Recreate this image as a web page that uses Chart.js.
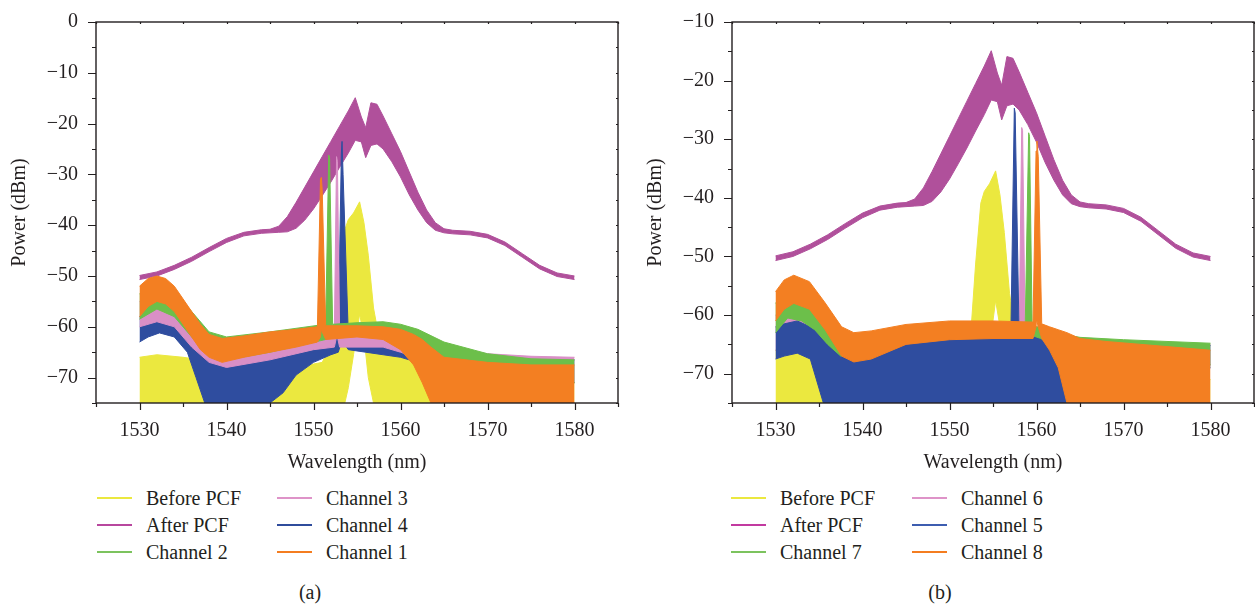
<!DOCTYPE html>
<html>
<head>
<meta charset="utf-8">
<script src="https://cdn.jsdelivr.net/npm/chart.js@4.4.1/dist/chart.umd.min.js"></script>
<style>
  body { margin: 0; background: #fff; }
  #wrap { position: relative; width: 1255px; height: 606px; font-family: 'Liberation Serif', 'Times New Roman', serif; color: #231f20; }
  canvas { position: absolute; top: 0; }
  .key { position: absolute; display: flex; align-items: center; font-size: 20px; line-height: 24px; white-space: nowrap; }
  .key .swatch { display: inline-block; width: 35px; height: 2px; margin-right: 14px; }
  .cap { position: absolute; font-size: 20px; line-height: 24px; transform: translateX(-50%); }
</style>
</head>
<body>
<div id="wrap">
  <canvas id="chartA" width="627" height="480" style="left:0px"></canvas>
  <canvas id="chartB" width="619" height="480" style="left:636px"></canvas>
</div>
<script>
// tick labels
const xTickLabels = [1530, 1540, 1550, 1560, 1570, 1580];
const yTickLabelsA = [0, -10, -20, -30, -40, -50, -60, -70];
const yTickLabelsB = [-10, -20, -30, -40, -50, -60, -70];

// envelopes (upper / lower edge in dBm)
// same input and PCF output in both panels
const wlBefore = [1530, 1532, 1535, 1537, 1540, 1545, 1548, 1551, 1552.5, 1553, 1553.6, 1554, 1554.6, 1555.3, 1555.8, 1556.3, 1556.9, 1557.3, 1558, 1559, 1562, 1565, 1570, 1575, 1580];
const beforeHi = [-66, -65.5, -66, -66.5, -67, -67.5, -68, -67, -62, -51.3, -40.9, -38.9, -37.6, -35.4, -39.5, -45.9, -56.3, -60, -63, -65, -67, -68, -70, -71, -71];
const beforeLo = [-75, -75, -75, -75, -75, -75, -75, -75, -75, -75, -75, -72, -65.5, -57.5, -62, -70, -75, -75, -75, -75, -75, -75, -75, -75, -75];

const wlAfter = [1530, 1532, 1534, 1536, 1538, 1540, 1542, 1544, 1545, 1546, 1547, 1548, 1549, 1550, 1551, 1552, 1553, 1554, 1554.8, 1555.5, 1556, 1556.6, 1557.3, 1558, 1559, 1560, 1561, 1562, 1563, 1564, 1565, 1566, 1568, 1570, 1572, 1574, 1576, 1578, 1580];
const afterHi = [-49.9, -49.2, -47.9, -46.3, -44.4, -42.6, -41.4, -40.9, -40.8, -40.2, -38.3, -35.5, -32.5, -29.5, -26.5, -23.5, -20.5, -17.5, -14.9, -18.7, -20.8, -15.9, -16.2, -18.5, -22, -25.5, -29.5, -33.5, -37, -39.5, -40.7, -41, -41.2, -41.8, -43.3, -45.6, -47.9, -49.4, -50];
const afterLo = [-50.7, -50, -48.7, -47.1, -45.2, -43.4, -42.1, -41.6, -41.5, -41.4, -41.3, -40.6, -39, -36.8, -34.2, -31.5, -28.6, -25.8, -23.3, -23.6, -26.7, -24.3, -24, -25, -27.5, -30.5, -34, -37, -39.5, -41, -41.5, -41.7, -41.9, -42.5, -44, -46.3, -48.6, -50.1, -50.7];

// panel (a)
const wlCh1 = [1530, 1531, 1532, 1533, 1534, 1535, 1536, 1537, 1538, 1539.5, 1542, 1545, 1548, 1550.45, 1550.8, 1550.9, 1551, 1551.4, 1555, 1558, 1560, 1561.5, 1562.5, 1563.5, 1565, 1570, 1575, 1580];
const ch1Hi = [-52, -50.5, -50, -50.5, -52, -54.5, -57, -59.5, -61.5, -62.3, -61.8, -61, -60.5, -60, -31, -30.6, -33, -59.8, -59.8, -60, -60.5, -61.5, -62.5, -64, -66, -67, -67.5, -67.5];
const ch1Lo = [-58, -56, -55, -55.5, -57, -59.5, -62, -64.5, -66, -67, -66, -65, -64, -63, -62, -60.5, -61, -62.5, -62, -62.5, -64.5, -67.5, -71, -75, -75, -75, -75, -75];

const wlCh2 = [1530, 1532, 1534, 1536, 1538, 1540, 1545, 1551.4, 1551.75, 1551.85, 1552.2, 1555, 1558, 1560, 1562, 1565, 1570, 1575, 1580];
const ch2Hi = [-53.5, -52, -53, -57, -61, -62, -61, -59.5, -26.2, -26.8, -59.5, -59.2, -59, -59.5, -60.5, -63, -65.3, -66.3, -66.5];
const ch2Lo = [-58.5, -56.5, -58, -62, -65.5, -66.5, -65, -62.5, -60, -60, -61.5, -61.5, -61.5, -62, -63, -66.5, -69, -70, -71];

const wlCh3 = [1530, 1532, 1534, 1536, 1538, 1540, 1545, 1550, 1552.4, 1552.65, 1552.75, 1553, 1555, 1558, 1560, 1565, 1570, 1575, 1580];
const ch3Hi = [-55, -54, -55, -59, -62, -63, -62, -61, -60.5, -26.5, -27.5, -60.5, -60.5, -60.5, -61, -64, -65.3, -65.8, -66];
const ch3Lo = [-60, -59, -60, -64, -67, -68, -66.5, -64.5, -64, -62, -62, -64, -64, -64, -65, -68, -70, -70.5, -71];

const wlCh4 = [1530, 1531, 1532.3, 1534, 1535.5, 1536.5, 1537.5, 1539, 1541, 1543, 1545, 1546.5, 1548, 1550, 1552, 1552.85, 1553.2, 1553.28, 1553.4, 1554, 1556, 1558, 1560, 1562, 1565, 1570, 1575, 1580];
const ch4Hi = [-58, -57, -56.7, -57.5, -59.5, -61.5, -63.5, -65.5, -66, -65.5, -64.8, -64.3, -63.5, -62.5, -61.8, -61.5, -26, -23.5, -30, -61.5, -62, -62, -62.5, -63.5, -64.8, -65.5, -66, -66.5];
const ch4Lo = [-63, -62, -61.2, -62, -65, -70, -75, -75, -75, -75, -75, -73, -69.5, -67, -65.5, -65, -63, -62, -63, -64.5, -65, -65.5, -66, -67, -68.5, -70, -70.5, -71];

// panel (b)
const wlCh5 = [1530, 1531, 1532.5, 1534, 1535.5, 1537, 1540, 1543, 1546, 1550, 1555, 1557.05, 1557.45, 1557.55, 1558, 1560, 1562, 1564.5, 1565, 1570, 1575, 1580];
const ch5Hi = [-62, -61.5, -61, -62, -63.5, -65.5, -65, -64, -63.5, -63.5, -63.5, -63.5, -24.7, -25.5, -63.5, -63.5, -64.5, -65, -65, -65, -65, -65.2];
const ch5Lo = [-67.5, -67, -66.5, -67.5, -75, -75, -75, -75, -75, -75, -75, -75, -75, -75, -75, -75, -75, -75, -68.5, -69, -69, -69];

const wlCh6 = [1530, 1531.5, 1533, 1535, 1537, 1540, 1545, 1550, 1555, 1558, 1558.3, 1558.4, 1558.7, 1560, 1565, 1570, 1580];
const ch6Hi = [-60, -59.6, -60, -62, -65, -66, -65, -65, -64.5, -64, -28, -28.5, -64, -64, -64.3, -64.8, -65];
const ch6Lo = [-66, -65, -65.5, -68, -75, -75, -75, -75, -75, -75, -75, -75, -75, -70, -68, -68.5, -68.5];

const wlCh7 = [1530, 1531.4, 1533, 1534.5, 1536, 1537.5, 1540, 1545, 1550, 1555, 1558.7, 1559.1, 1559.2, 1559.5, 1560.5, 1562, 1565, 1570, 1580];
const ch7Hi = [-58, -55.4, -55.8, -57.5, -60.5, -63, -63.5, -62.5, -62, -62, -62, -28.9, -29.5, -62, -62, -63, -63.8, -64.2, -64.8];
const ch7Lo = [-63, -60.5, -61, -62.5, -65, -67, -66.5, -64.5, -63.5, -63.5, -63.5, -63.5, -63.5, -63.5, -64, -65.5, -67.5, -68, -68.5];

const wlCh8 = [1530, 1531, 1532.1, 1533.9, 1535.7, 1537.6, 1539, 1541, 1545, 1550, 1555, 1559.6, 1559.95, 1560.05, 1560.2, 1560.6, 1561.5, 1562.5, 1563.5, 1565, 1568, 1572, 1576, 1580];
const ch8Hi = [-56, -54, -53.2, -54.3, -57.9, -62, -63, -62.7, -61.6, -61, -61, -61.2, -32, -30.3, -33, -61.5, -62, -62.5, -63, -64, -64.5, -65, -65.5, -66];
const ch8Lo = [-61, -59, -58, -59, -62.5, -67, -68, -67.5, -65, -64.2, -64, -64, -62, -61, -62, -64, -66, -69, -75, -75, -75, -75, -75, -75];

const ink = '#231f20';
const serif = {family: "'Liberation Serif', 'Times New Roman', serif", size: 20};
const yellow = '#ebe83f', magenta = '#b0509b', green = '#6cbf4a', pink = '#d98fc6', blue = '#2f4d9f', orange = '#f37f22';

function band(label, xs, hi, lo, color, order) {
  return [
    {label: label + ' (lower)', data: xs.map((x, i) => ({x, y: lo[i]})), borderColor: color, borderWidth: 1, pointRadius: 0, fill: false, order},
    {label, data: xs.map((x, i) => ({x, y: hi[i]})), borderColor: color, backgroundColor: color, borderWidth: 1, pointRadius: 0, fill: '-1', order}
  ];
}

const frame = {
  id: 'frame',
  afterDraw(chart) {
    const {ctx, chartArea: a, scales: {x, y}} = chart;
    ctx.save();
    ctx.strokeStyle = ink;
    ctx.lineWidth = 1.4;
    ctx.strokeRect(a.left, a.top, a.right - a.left, a.bottom - a.top);
    ctx.lineWidth = 1.2;
    ctx.beginPath();
    for (let v = x.min; v <= x.max; v += 5) {
      const p = Math.round(x.getPixelForValue(v)) + 0.5;
      const major = v % 10 === 0;
      ctx.moveTo(p, a.bottom); ctx.lineTo(p, a.bottom + (major ? 7 : 4));
      ctx.moveTo(p, a.top); ctx.lineTo(p, a.top + 2);
    }
    for (let v = y.min; v <= y.max; v += 5) {
      const p = Math.round(y.getPixelForValue(v)) + 0.5;
      const major = v % 10 === 0;
      ctx.moveTo(a.left - (major ? 8 : 4), p); ctx.lineTo(a.left, p);
      ctx.moveTo(a.right, p); ctx.lineTo(a.right - 2, p);
    }
    ctx.stroke();
    ctx.restore();
  }
};

function drawPanel(id, bands, yMin, yMax, yLabels, padRight) {
  const datasets = bands.flatMap(b => band(...b));
  return new Chart(document.getElementById(id), {
    type: 'line',
    data: {datasets},
    options: {
      responsive: false,
      animation: false,
      events: [],
      layout: {padding: {top: 15, right: padRight, bottom: 0, left: 0}},
      plugins: {legend: {display: false}, tooltip: {enabled: false}},
      elements: {line: {tension: 0}},
      scales: {
        x: {
          type: 'linear', min: 1525, max: 1585,
          afterBuildTicks: s => { s.ticks = xTickLabels.map(v => ({value: v})); },
          afterFit: s => { s.height = 77; },
          ticks: {font: serif, color: ink, padding: 8, maxRotation: 0, callback: v => String(v)},
          grid: {display: true, drawOnChartArea: false, color: 'rgba(0,0,0,0)', tickLength: 8},
          border: {display: false},
          title: {display: true, text: 'Wavelength (nm)', font: serif, color: ink, padding: {top: 0, bottom: 5}}
        },
        y: {
          type: 'linear', min: yMin, max: yMax,
          afterBuildTicks: s => { s.ticks = yLabels.map(v => ({value: v})); },
          afterFit: s => { s.width = 96; },
          ticks: {font: serif, color: ink, padding: 10, callback: v => v < 0 ? '\u2212' + Math.abs(v) : String(v)},
          grid: {display: true, drawOnChartArea: false, color: 'rgba(0,0,0,0)', tickLength: 8},
          border: {display: false},
          title: {display: true, text: 'Power (dBm)', font: serif, color: ink, padding: {top: 8, bottom: 0}}
        }
      }
    },
    plugins: [frame]
  });
}

drawPanel('chartA', [
  ['After PCF', wlAfter, afterHi, afterLo, magenta, 5],
  ['Before PCF', wlBefore, beforeHi, beforeLo, yellow, 4],
  ['Channel 4', wlCh4, ch4Hi, ch4Lo, blue, 3],
  ['Channel 3', wlCh3, ch3Hi, ch3Lo, pink, 2],
  ['Channel 2', wlCh2, ch2Hi, ch2Lo, green, 1],
  ['Channel 1', wlCh1, ch1Hi, ch1Lo, orange, 0]
], -75, 0, yTickLabelsA, 9);

drawPanel('chartB', [
  ['After PCF', wlAfter, afterHi, afterLo, magenta, 5],
  ['Before PCF', wlBefore, beforeHi, beforeLo, yellow, 4],
  ['Channel 6', wlCh6, ch6Hi, ch6Lo, pink, 3],
  ['Channel 5', wlCh5, ch5Hi, ch5Lo, blue, 2],
  ['Channel 7', wlCh7, ch7Hi, ch7Lo, green, 1],
  ['Channel 8', wlCh8, ch8Hi, ch8Lo, orange, 0]
], -75, -10, yTickLabelsB, 1);

// legends, column by column, and the sub-captions
const wrap = document.getElementById('wrap');
function legend(items, colX, rowY) {
  items.forEach(([text, color], i) => {
    const d = document.createElement('div');
    d.className = 'key';
    d.style.left = colX[Math.floor(i / 3)] + 'px';
    d.style.top = (rowY[i % 3] - 12) + 'px';
    d.innerHTML = '<span class="swatch" style="background:' + color + '"></span>' + text;
    wrap.appendChild(d);
  });
}
function caption(text, cx, cy) {
  const d = document.createElement('div');
  d.className = 'cap';
  d.style.left = cx + 'px';
  d.style.top = (cy - 12) + 'px';
  d.textContent = text;
  wrap.appendChild(d);
}
const rows = [498, 525, 552];
legend([['Before PCF', '#ebe83f'], ['After PCF', '#b8479e'], ['Channel 2', '#7cc35e'],
        ['Channel 3', '#de93c8'], ['Channel 4', '#2f4c9c'], ['Channel 1', '#f47d20']], [97, 277], rows);
legend([['Before PCF', '#ebe83f'], ['After PCF', '#c23aa0'], ['Channel 7', '#7cc35e'],
        ['Channel 6', '#de93c8'], ['Channel 5', '#3d5db0'], ['Channel 8', '#f47d20']], [731, 912], rows);
caption('(a)', 310, 592);
caption('(b)', 940, 592);
</script>
</body>
</html>
